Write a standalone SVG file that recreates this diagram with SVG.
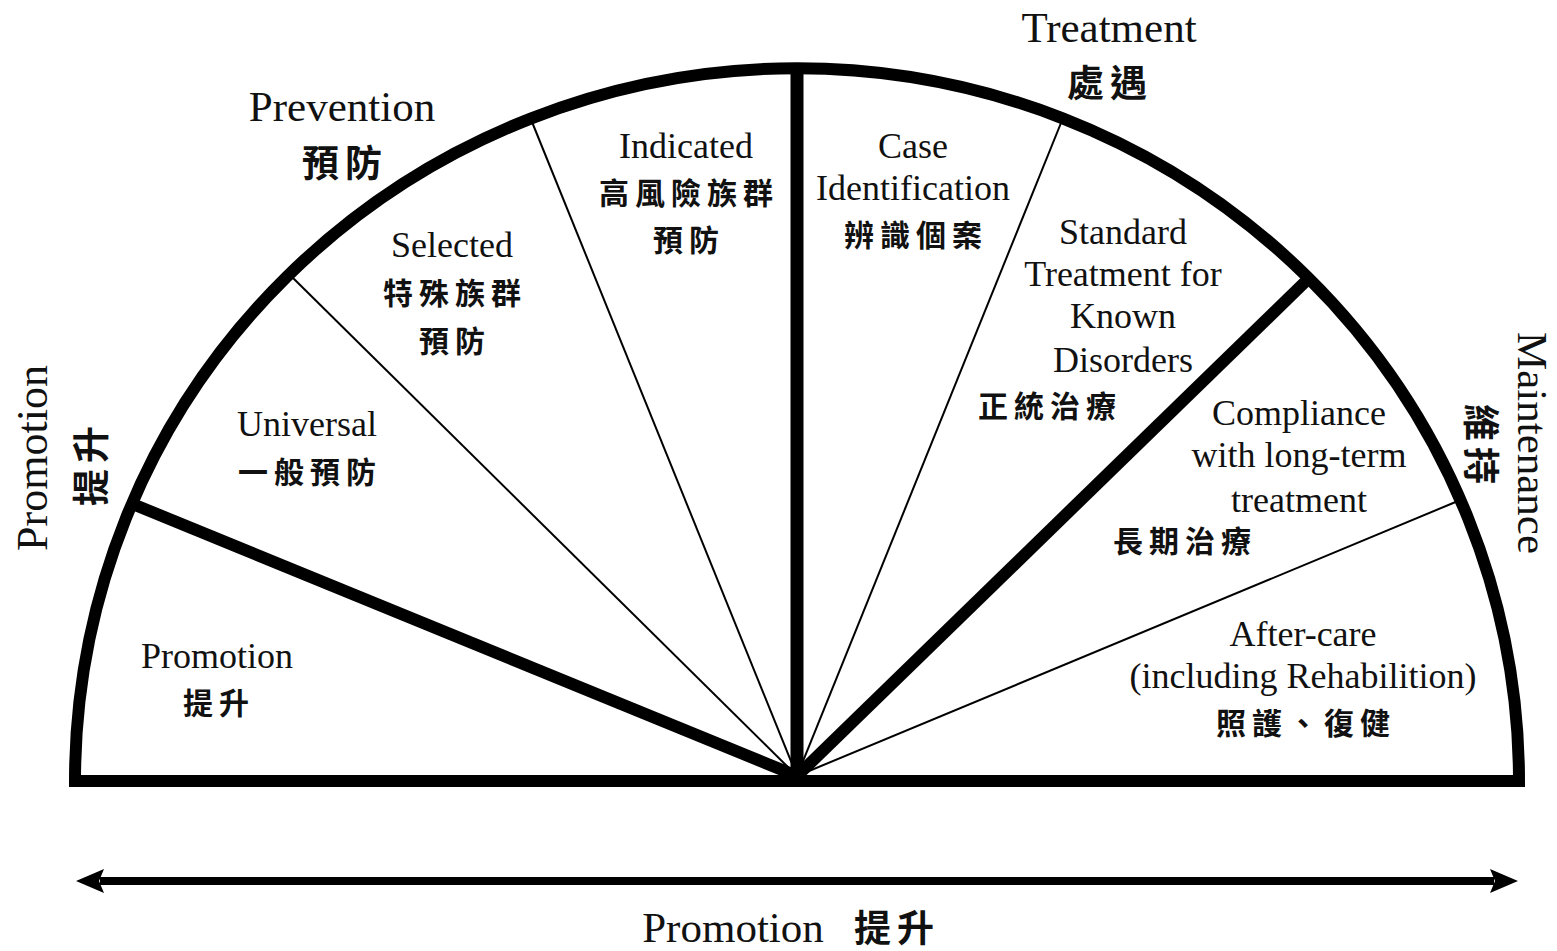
<svg xmlns="http://www.w3.org/2000/svg" width="1557" height="951" viewBox="0 0 1557 951">
<style>
.en{font-family:"Liberation Serif","Times New Roman",serif;fill:#111;text-anchor:middle}
.zh{font-family:"Noto Sans CJK TC","Noto Sans CJK SC",sans-serif;font-weight:700;fill:#111;text-anchor:middle}
.in{font-size:36px}
.top{font-size:43px}
.zhin{font-size:30px;letter-spacing:6px}
.zhtop{font-size:37px;letter-spacing:6px}
.thick{stroke:#000;stroke-width:12;fill:none}
.thin{stroke:#000;stroke-width:2;fill:none}
</style>
<defs>
<marker id="ah" viewBox="0 0 30 30" refX="4" refY="15" markerWidth="30" markerHeight="30" markerUnits="userSpaceOnUse" orient="auto-start-reverse">
<path d="M0,3 L28,15 L0,27 L5,15 Z" fill="#000"/>
</marker>
</defs>
<g id="connectors">
<line class="thin" x1="797" y1="776" x2="292" y2="277"/>
<line class="thin" x1="797" y1="776" x2="530" y2="117"/>
<line class="thin" x1="797" y1="776" x2="1063" y2="118"/>
<line class="thin" x1="797" y1="776" x2="1458" y2="501"/>
<line class="thick" x1="797" y1="776" x2="135" y2="505"/>
<line class="thick" x1="797" y1="776" x2="1305" y2="282"/>
<line class="thick" style="stroke-width:13" x1="797" y1="781" x2="797" y2="68"/>
<path id="frame" class="thick" style="stroke-linejoin:miter" d="M75,781 A722,713 0 0 1 1519,781 Z"/>
<line x1="100" y1="881" x2="1494" y2="881" stroke="#000" stroke-width="8" marker-start="url(#ah)" marker-end="url(#ah)"/>
</g>
<g id="outer-prevention">
<text class="en top" x="342" y="121">Prevention</text>
<text class="zh zhtop" x="345" y="177">預防</text>
</g>
<g id="outer-treatment">
<text class="en top" x="1109" y="42">Treatment</text>
<text class="zh zhtop" x="1110" y="97">處遇</text>
</g>
<g id="outer-promotion-left">
<text class="en" style="font-size:44px" transform="translate(47,458) rotate(-90)">Promotion</text>
<text class="zh zhtop" transform="translate(105,463) rotate(-90)">提升</text>
</g>
<g id="outer-maintenance">
<text class="en" style="font-size:43px" transform="translate(1518,443) rotate(90)">Maintenance</text>
<text class="zh zhtop" transform="translate(1467,447) rotate(90)">維持</text>
</g>
<g id="seg-promotion">
<text class="en in" x="217" y="668">Promotion</text>
<text class="zh zhin" x="219" y="714">提升</text>
</g>
<g id="seg-universal">
<text class="en in" x="307" y="436">Universal</text>
<text class="zh zhin" x="310" y="483">一般預防</text>
</g>
<g id="seg-selected">
<text class="en in" x="452" y="257">Selected</text>
<text class="zh zhin" x="455" y="304">特殊族群</text>
<text class="zh zhin" x="455" y="352">預防</text>
</g>
<g id="seg-indicated">
<text class="en in" x="686" y="158">Indicated</text>
<text class="zh zhin" x="689" y="204">高風險族群</text>
<text class="zh zhin" x="689" y="251">預防</text>
</g>
<g id="seg-case">
<text class="en in" x="913" y="158">Case</text>
<text class="en in" x="913" y="200">Identification</text>
<text class="zh zhin" x="916" y="246">辨識個案</text>
</g>
<g id="seg-standard">
<text class="en in" x="1123" y="244">Standard</text>
<text class="en in" x="1123" y="286">Treatment for</text>
<text class="en in" x="1123" y="328">Known</text>
<text class="en in" x="1123" y="372">Disorders</text>
<text class="zh zhin" x="1050" y="417">正統治療</text>
</g>
<g id="seg-compliance">
<text class="en in" x="1299" y="425">Compliance</text>
<text class="en in" x="1299" y="467">with long-term</text>
<text class="en in" x="1299" y="512">treatment</text>
<text class="zh zhin" x="1185" y="552">長期治療</text>
</g>
<g id="seg-aftercare">
<text class="en in" x="1303" y="646">After-care</text>
<text class="en in" x="1303" y="688">(including Rehabilition)</text>
<text class="zh zhin" x="1306" y="734">照護、復健</text>
</g>
<g id="axis-label">
<text class="en top" x="733" y="942">Promotion</text>
<text class="zh zhtop" x="897" y="942">提升</text>
</g>
</svg>
